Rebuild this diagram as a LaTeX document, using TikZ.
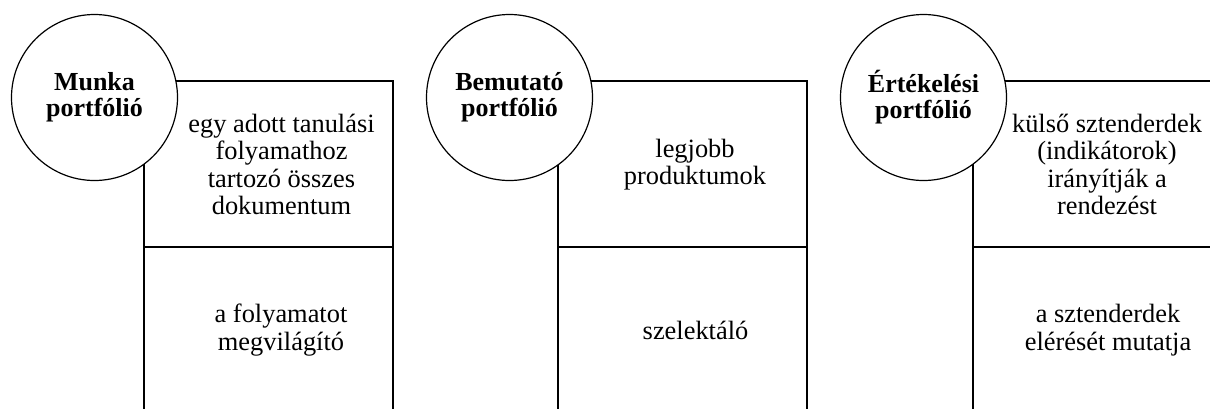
\documentclass[tikz,border=0pt]{standalone}
\usepackage{fontspec}
\setmainfont{LiberationSerif}[Extension=.ttf, UprightFont=*-Regular, BoldFont=*-Bold, ItalicFont=*-Italic, BoldItalicFont=*-BoldItalic]
\begin{document}
\begin{tikzpicture}[x=1pt,y=-1pt,
  cell/.style={draw, line width=1.2pt, minimum width=249pt, inner sep=0pt},
  badge/.style={draw, circle, fill=white, line width=1.2pt, minimum size=166pt, inner sep=0pt, font=\bfseries\fontsize{26}{26}\selectfont, align=center},
  txt/.style={align=center, font=\fontsize{26.4}{27.5}\selectfont, inner sep=0pt}]
\useasboundingbox (0,0) rectangle (1210,408);
% boxes
\node[cell, minimum height=166pt] (u1) at (268.5,164) {};
\node[cell, minimum height=168pt] (l1) at (268.5,331) {};
\node[cell, minimum height=166pt] (u2) at (682.5,164) {};
\node[cell, minimum height=168pt] (l2) at (682.5,331) {};
\node[cell, minimum height=166pt] (u3) at (1097.5,164) {};
\node[cell, minimum height=168pt] (l3) at (1097.5,331) {};
% texts
\node[txt] (t1a) at (281.5,164.5) {egy adott tanulási\\folyamathoz\\tartozó összes\\dokumentum};
\node[txt] (t1b) at (281,330) {a folyamatot\\megvilágító};
\node[txt] (t2a) at (695,164.5) {legjobb\\produktumok};
\node[txt] (t2b) at (695.5,330) {szelektáló};
\node[txt] (t3a) at (1107,164.5) {külső sztenderdek\\(indikátorok)\\irányítják a\\rendezést};
\node[txt] (t3b) at (1108,330) {a sztenderdek\\elérését mutatja};
% circles
\node[badge] (c1) at (94.5,97.5) {Munka\\portfólió};
\node[badge] (c2) at (509.5,97.5) {Bemutató\\portfólió};
\node[badge] (c3) at (923.5,97.5) {Értékelési\\portfólió};
\end{tikzpicture}
\end{document}
